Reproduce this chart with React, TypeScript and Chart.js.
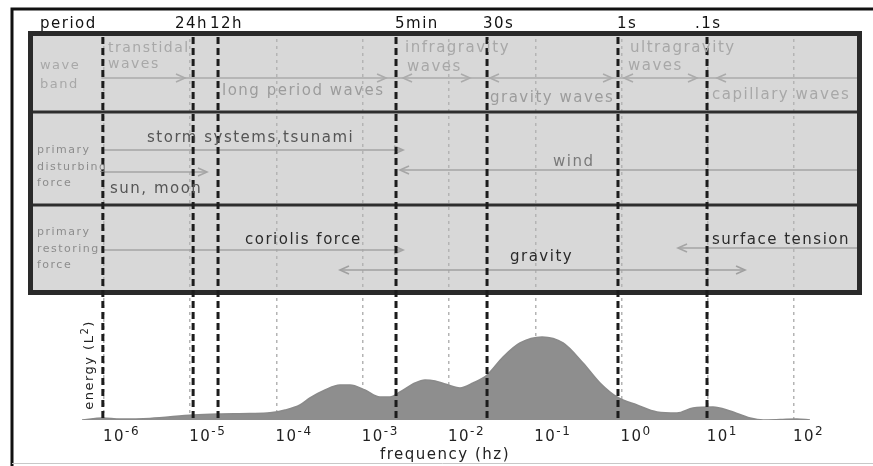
import React, { useEffect, useRef } from "react";
import { Chart, registerables } from "chart.js";

Chart.register(...registerables);

// ---------------- data ----------------
// energy spectrum: frequency (Hz) and relative energy
const energyFreqHz = [
  5.56e-7, 9.7e-7, 1.53e-6, 3.41e-6, 1.08e-5, 2.1e-5, 4.93e-5, 8.41e-5, 1.26e-4,
  1.87e-4, 2.44e-4, 3.65e-4, 5.44e-4, 7.11e-4, 1.06e-3, 1.58e-3, 2.07e-3, 2.7e-3,
  4.04e-3, 5.27e-3, 6.89e-3, 8.99e-3, 1.34e-2, 1.9e-2, 2.76e-2, 4.23e-2, 6.65e-2,
  0.12, 0.21, 0.358, 0.564, 0.887, 1.51, 2.58, 4.4, 6.75, 11.5, 18.1, 30.9, 43.8,
  68.9, 108, 153,
];
const energyLevel = [
  0, 0.5, 0.25, 0.4, 1.25, 1.5, 1.6, 1.8, 2.5, 3.75, 5.5, 7.5, 8.75, 8.75, 7.5,
  5.75, 5.75, 7, 9.25, 10, 9.75, 9, 8, 9.25, 11.25, 15.75, 19.25, 20.75, 19.25,
  14.25, 9.25, 5.75, 3.75, 2, 1.75, 3, 3.25, 2.25, 0.5, 0, 0.1, 0.25, 0,
];

const decadeTicks = [1e-6, 1e-5, 1e-4, 1e-3, 1e-2, 1e-1, 1, 10, 100];
const decadeTickBase = "10";
const decadeTickExponents = ["-6", "-5", "-4", "-3", "-2", "-1", "0", "1", "2"];

// period boundaries (Hz) drawn as heavy dashed lines
const boundaryFreqHz = [9.7e-7, 1.08e-5, 2.1e-5, 2.43e-3, 2.76e-2, 0.91, 9.8];
const periodLabels = ["period", "24h", "12h", "5min", "30s", "1s", ".1s"];

const rowHeaders = [
  ["wave", "band"],
  ["primary", "disturbing", "force"],
  ["primary", "restoring", "force"],
];

// ---------------- layout (log10 Hz on x, chart units on y) ----------------
const X_MIN_EXP = -6.881;
const X_MAX_EXP = 2.788;
const Y_MAX = 97;
const PANEL_BOTTOM = 31.5;
const ROW_LINES = [77, 53.75];
const PERIOD_LABEL_Y = 99;
const periodLabelExp = [-6.742, -5.177, -4.771, -2.626, -1.606, -0.052, 0.852];
const rowHeaderExp = [-6.742, -6.777, -6.777];
const rowHeaderY = [
  [88.5, 83.75],
  [67.5, 63.25, 59.25],
  [47, 42.75, 38.75],
];
const LIGHT = "#a8a8a8";
const bandTexts = [
  { t: "transtidal", e: -5.954, y: 93, s: 14, c: LIGHT },
  { t: "waves", e: -5.954, y: 89, s: 14, c: LIGHT },
  { t: "long period waves", e: -4.632, y: 82.25, s: 15, c: "#9c9c9c" },
  { t: "infragravity", e: -2.51, y: 93, s: 15, c: LIGHT },
  { t: "waves", e: -2.487, y: 88.25, s: 15, c: LIGHT },
  { t: "gravity waves", e: -1.525, y: 80.5, s: 15, c: "#9c9c9c" },
  { t: "ultragravity", e: 0.099, y: 93, s: 15, c: LIGHT },
  { t: "waves", e: 0.075, y: 88.5, s: 15, c: LIGHT },
  { t: "capillary waves", e: 1.049, y: 81.25, s: 15, c: LIGHT },
  { t: "storm systems,tsunami", e: -5.501, y: 70.5, s: 15, c: "#555" },
  { t: "sun, moon", e: -5.93, y: 57.75, s: 15, c: "#555" },
  { t: "wind", e: -0.794, y: 64.5, s: 15, c: "#7a7a7a" },
  { t: "coriolis force", e: -4.365, y: 45, s: 15, c: "#2a2a2a" },
  { t: "gravity", e: -1.293, y: 40.75, s: 15, c: "#2a2a2a" },
  { t: "surface tension", e: 1.049, y: 45, s: 15, c: "#2a2a2a" },
];
// arrows: y, from/to exp (null = panel edge), heads [exp, dir]
const arrows: { y: number; from: number | null; to: number | null; heads: [number, string][]; c: string }[] = [
  {
    y: 85.5, from: -6.03, to: null, c: "#ababab",
    heads: [[-5.061, "r"], [-2.73, "r"], [-2.533, "l"], [-1.757, "r"], [-1.525, "l"], [-0.11, "r"], [0.029, "l"], [0.875, "r"], [1.107, "l"]],
  },
  { y: 67.5, from: -6.03, to: -2.533, c: "#a5a5a5", heads: [[-2.533, "r"]] },
  { y: 62, from: -6.03, to: -4.806, c: "#a5a5a5", heads: [[-4.806, "r"]] },
  { y: 62.5, from: -2.568, to: null, c: "#a5a5a5", heads: [[-2.568, "l"]] },
  { y: 42.5, from: -6.03, to: -2.533, c: "#a5a5a5", heads: [[-2.533, "r"]] },
  { y: 37.5, from: -3.264, to: 1.432, c: "#a0a0a0", heads: [[-3.264, "l"], [1.432, "r"]] },
  { y: 43, from: 0.655, to: null, c: "#a5a5a5", heads: [[0.655, "l"]] },
];
const ENERGY_LABEL = { e: -6.186, y: 13.75 };

const FONT = '"DejaVu Sans", Verdana, sans-serif';

// draws text parts left to right; each part: text, size, baseline shift
function drawParts(ctx: any, parts: { t: string; s: number; dy: number }[], x: number, y: number, align: string) {
  let total = 0;
  parts.forEach((p) => {
    ctx.font = `${p.s}px ${FONT}`;
    total += ctx.measureText(p.t).width;
  });
  let cx = align === "center" ? x - total / 2 : x;
  ctx.textAlign = "left";
  parts.forEach((p) => {
    ctx.font = `${p.s}px ${FONT}`;
    ctx.fillText(p.t, cx, y + p.dy);
    cx += ctx.measureText(p.t).width;
  });
}

const diagramPlugin = {
  id: "diagram",
  beforeDraw(chart: any) {
    const ctx = chart.ctx;
    ctx.letterSpacing = "1.5px";
    const { left, right, top } = chart.chartArea;
    const yb = chart.scales.y.getPixelForValue(PANEL_BOTTOM);
    ctx.save();
    ctx.fillStyle = "#d8d8d8";
    ctx.fillRect(left, top, right - left, yb - top);
    ctx.restore();
  },
  afterDatasetsDraw(chart: any) {
    const ctx = chart.ctx;
    const xs = chart.scales.x;
    const ys = chart.scales.y;
    const X = (e: number) => xs.getPixelForValue(Math.pow(10, e));
    const Y = (v: number) => ys.getPixelForValue(v);
    const { left, right, top, bottom } = chart.chartArea;
    const yb = Y(PANEL_BOTTOM);
    ctx.save();
    ctx.letterSpacing = "1.5px";

    // row separators
    ctx.strokeStyle = "#2e2e2e";
    ctx.lineWidth = 3;
    ROW_LINES.forEach((v) => {
      ctx.beginPath();
      ctx.moveTo(left, Y(v));
      ctx.lineTo(right, Y(v));
      ctx.stroke();
    });

    // arrows
    arrows.forEach((a) => {
      const y = Y(a.y);
      const x1 = a.from === null ? left : X(a.from);
      const x2 = a.to === null ? right : X(a.to);
      ctx.strokeStyle = a.c;
      ctx.lineWidth = 1.6;
      ctx.beginPath();
      ctx.moveTo(x1, y);
      ctx.lineTo(x2, y);
      ctx.stroke();
      a.heads.forEach(([e, d]) => {
        const x = X(e);
        const k = d === "r" ? -1 : 1;
        ctx.beginPath();
        ctx.moveTo(x + k * 9, y - 4);
        ctx.lineTo(x, y);
        ctx.lineTo(x + k * 9, y + 4);
        ctx.stroke();
      });
    });

    // panel border
    ctx.strokeStyle = "#2a2a2a";
    ctx.lineWidth = 5;
    ctx.strokeRect(left + 2.5, top + 1.5, right - left - 5, yb - top - 3);

    // heavy dashed period boundaries
    ctx.strokeStyle = "#1c1c1c";
    ctx.lineWidth = 3;
    ctx.setLineDash([7, 4]);
    boundaryFreqHz.forEach((f) => {
      const x = xs.getPixelForValue(f);
      ctx.beginPath();
      ctx.moveTo(x, top + 5);
      ctx.lineTo(x, bottom + 1);
      ctx.stroke();
    });
    ctx.setLineDash([]);

    // texts
    ctx.textAlign = "left";
    ctx.textBaseline = "middle";
    rowHeaders.forEach((lines, r) => {
      ctx.font = `${r === 0 ? 13 : 11}px ${FONT}`;
      ctx.fillStyle = r === 0 ? LIGHT : "#8c8c8c";
      lines.forEach((s, i) => ctx.fillText(s, X(rowHeaderExp[r]), Y(rowHeaderY[r][i])));
    });
    bandTexts.forEach((b) => {
      ctx.font = `${b.s}px ${FONT}`;
      ctx.fillStyle = b.c;
      ctx.fillText(b.t, X(b.e), Y(b.y));
    });

    // period labels
    ctx.font = `15px ${FONT}`;
    ctx.fillStyle = "#111";
    periodLabels.forEach((s, i) => ctx.fillText(s, X(periodLabelExp[i]), Y(PERIOD_LABEL_Y)));

    // x tick labels with superscript exponents, placed at the scale's ticks
    ctx.textBaseline = "alphabetic";
    ctx.fillStyle = "#222";
    xs.ticks.forEach((_t: any, i: number) => {
      const x = xs.getPixelForTick(i) - 1;
      drawParts(
        ctx,
        [
          { t: decadeTickBase, s: 15, dy: 0 },
          { t: decadeTickExponents[i], s: 12, dy: -6 },
        ],
        x,
        bottom + 21,
        "left"
      );
    });

    // energy label (rotated)
    ctx.save();
    ctx.translate(X(ENERGY_LABEL.e) + 5, Y(ENERGY_LABEL.y));
    ctx.rotate(-Math.PI / 2);
    ctx.fillStyle = "#222";
    drawParts(
      ctx,
      [
        { t: "energy (L", s: 13, dy: 0 },
        { t: "2", s: 10, dy: -5 },
        { t: ")", s: 13, dy: 0 },
      ],
      0,
      0,
      "center"
    );
    ctx.restore();

    // outer frame
    ctx.strokeStyle = "#111";
    ctx.lineWidth = 3;
    ctx.beginPath();
    ctx.moveTo(12, chart.height);
    ctx.lineTo(12, 9);
    ctx.lineTo(chart.width, 9);
    ctx.stroke();
    ctx.strokeStyle = "#c8c8c8";
    ctx.lineWidth = 1;
    ctx.beginPath();
    ctx.moveTo(12, chart.height - 2.5);
    ctx.lineTo(chart.width, chart.height - 2.5);
    ctx.stroke();
    ctx.restore();
  },
};

export default function App() {
  const ref = useRef<HTMLCanvasElement>(null);
  useEffect(() => {
    const chart = new Chart(ref.current as HTMLCanvasElement, {
      type: "line",
      data: {
        datasets: [
          {
            data: energyFreqHz.map((f, i) => ({ x: f, y: energyLevel[i] })),
            fill: "origin",
            backgroundColor: "#8e8e8e",
            borderColor: "#8a8a8a",
            borderWidth: 1.5,
            pointRadius: 0,
            cubicInterpolationMode: "monotone",
          },
        ],
      },
      options: {
        animation: false,
        responsive: false,
        devicePixelRatio: 1,
        layout: { padding: { top: 32, left: 28, right: 11, bottom: 0 } },
        plugins: { legend: { display: false }, tooltip: { enabled: false } },
        font: { family: FONT },
        scales: {
          x: {
            type: "logarithmic",
            min: Math.pow(10, X_MIN_EXP),
            max: Math.pow(10, X_MAX_EXP),
            afterBuildTicks: (s: any) => {
              s.ticks = decadeTicks.map((v) => ({ value: v }));
            },
            afterFit: (s: any) => {
              s.height = 46;
            },
            ticks: {
              display: false,
              autoSkip: false,
              maxRotation: 0,
            },
            grid: { color: "#b4b4b4", lineWidth: 1.5, drawTicks: false },
            border: { display: false, dash: [3, 4] },
            title: {
              display: true,
              text: "frequency (hz)",
              color: "#222",
              font: { family: FONT, size: 15 },
              padding: { top: 0, bottom: 2 },
            },
          },
          y: { display: false, min: 0, max: Y_MAX },
        },
      } as any,
      plugins: [diagramPlugin],
    });
    return () => chart.destroy();
  }, []);
  return (
    <div style={{ position: "fixed", left: 0, top: 0, width: 873, height: 466, background: "#fff" }}>
      <canvas ref={ref} width={873} height={466} style={{ display: "block" }} />
    </div>
  );
}
